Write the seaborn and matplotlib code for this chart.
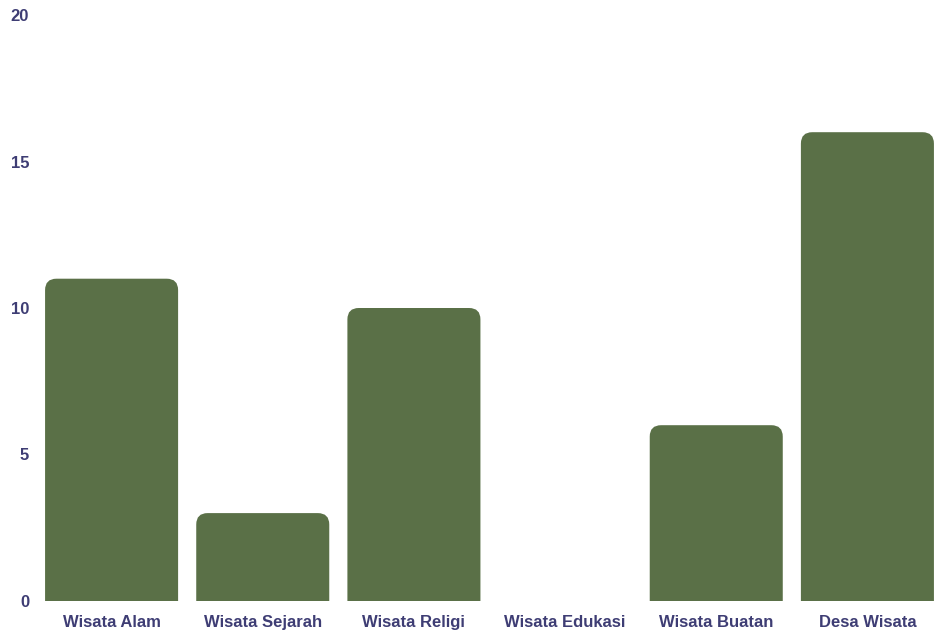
import seaborn as sns
import matplotlib.pyplot as plt
import pandas as pd
from matplotlib.patches import FancyBboxPatch

# Data
categories = ["Wisata Alam", "Wisata Sejarah", "Wisata Religi",
              "Wisata Edukasi", "Wisata Buatan", "Desa Wisata"]
counts = [11, 3, 10, 0, 6, 16]
y_ticks = [0, 5, 10, 15, 20]

df = pd.DataFrame({"kategori": categories, "jumlah": counts})

sns.set_theme(style="white")
plt.rcParams["font.family"] = ["Liberation Sans", "DejaVu Sans"]

bar_color = "#5a7047"
text_color = "#3e3d74"

fig = plt.figure(figsize=(9.35, 6.32), dpi=100)
ax = fig.add_axes([36 / 935, 31 / 632, 907 / 935, 586 / 632])

sns.barplot(data=df, x="kategori", y="jumlah", color=bar_color,
            width=0.88, saturation=1, ax=ax)

ax.set_ylim(0, 20)
ax.set_xlim(-0.5, 5.5)

# swap the plain bars for ones with rounded top corners
px_x = 907 / 6        # pixels per x unit
px_y = 586 / 20       # pixels per y unit
for p in list(ax.patches):
    x, w, h = p.get_x(), p.get_width(), p.get_height()
    p.remove()
    if h <= 0:
        continue
    box = FancyBboxPatch((x, -1), w, h + 1,
                         boxstyle="round,pad=0,rounding_size=0.075",
                         mutation_aspect=px_x / px_y,
                         facecolor=bar_color, edgecolor="none")
    ax.add_patch(box)

ax.set_yticks(y_ticks)
ax.set_xlabel("")
ax.set_ylabel("")
ax.tick_params(axis="both", length=0, colors=text_color, labelsize=12)
ax.tick_params(axis="y", pad=5)
ax.tick_params(axis="x", pad=10)
for lab in ax.get_xticklabels() + ax.get_yticklabels():
    lab.set_fontweight("bold")
    lab.set_color(text_color)
sns.despine(ax=ax, left=True, bottom=True)
ax.grid(False)

fig.savefig("out.png", dpi=100)
plt.close(fig)
